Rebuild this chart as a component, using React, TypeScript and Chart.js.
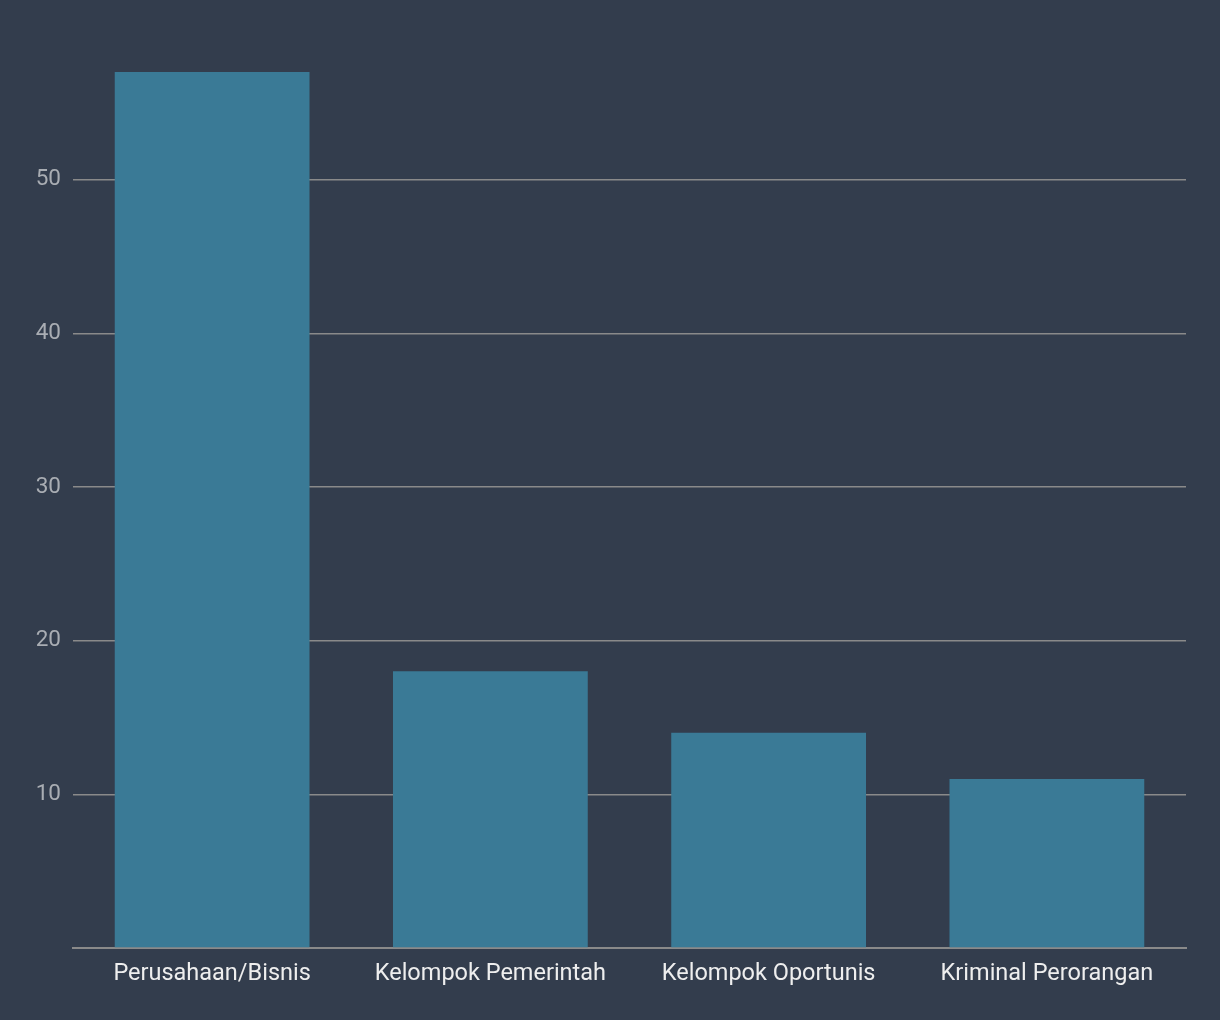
import React, { useEffect, useRef } from "react";
import { Chart, registerables } from "chart.js";

Chart.register(...registerables);

const categories = ["Perusahaan/Bisnis", "Kelompok Pemerintah", "Kelompok Oportunis", "Kriminal Perorangan"];
const values = [57, 18, 14, 11];
const yTicks = [10, 20, 30, 40, 50];

export default function App() {
  const ref = useRef<HTMLCanvasElement | null>(null);
  useEffect(() => {
    document.body.style.margin = "0";
    document.body.style.background = "#333d4d";
    const ctx = ref.current!;
    const chart = new Chart(ctx, {
      type: "bar",
      data: {
        labels: categories,
        datasets: [
          {
            data: values,
            backgroundColor: "#3a7a96",
            barPercentage: 0.7,
            categoryPercentage: 1,
          },
        ],
      },
      options: {
        animation: false,
        responsive: false,
        maintainAspectRatio: false,
        layout: { padding: { top: 72, right: 34, bottom: 0, left: 0 } },
        plugins: { legend: { display: false }, tooltip: { enabled: false } },
        scales: {
          x: {
            grid: { display: false },
            border: { display: true, color: "#8a8a8a", width: 2 },
            ticks: { color: "#eeeeee", font: { family: "Roboto", size: 23.5 }, padding: 4, maxRotation: 0 },
            afterFit: (s: any) => { s.height = 72; },
          },
          y: {
            min: 0,
            max: 57,
            afterBuildTicks: (s: any) => {
              s.ticks = [0, ...yTicks].map((v) => ({ value: v }));
            },
            grid: {
              color: (c: any) => (c.tick && c.tick.value === 0 ? "rgba(0,0,0,0)" : "#8a8a8a"),
              lineWidth: 1.5,
              drawTicks: false,
            },
            border: { display: false },
            ticks: {
              color: "#a9adb3",
              font: { family: "Roboto", size: 22.5 },
              padding: 12,
              callback: (v: any) => (v === 0 ? "" : String(v)),
            },
            afterFit: (s: any) => { s.width = 73; },
          },
        },
      },
    });
    return () => chart.destroy();
  }, []);
  return (
    <div style={{ width: 1220, height: 1020, background: "#333d4d" }}>
      <canvas ref={ref} width={1220} height={1020} style={{ display: "block" }} />
    </div>
  );
}
